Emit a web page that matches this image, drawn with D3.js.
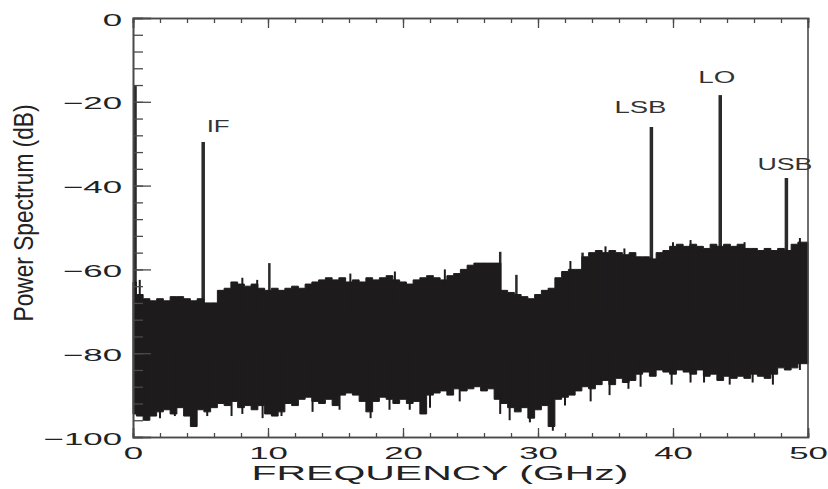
<!DOCTYPE html>
<html>
<head>
<meta charset="utf-8">
<script src="https://cdn.jsdelivr.net/npm/d3@7"></script>
<style>
  body { margin: 0; background: #fff; }
  svg { display: block; }
  text { font-family: "Liberation Sans", Arial, Helvetica, sans-serif; fill: #222; }
</style>
</head>
<body>
<script>
// noise floor envelope, sampled every 0.5 GHz (dB)
var noiseFreq = d3.range(0, 50.01, 0.5);
var noiseTop = [
  -63, -66, -67, -67.5, -67, -67.5, -66.5, -66.5, -67, -67.5,
  -67, -68, -68, -65, -64.5, -63, -63.5, -64, -63.5, -64.5,
  -65, -64.5, -65, -64.5, -64, -64.5, -63.5, -63, -62.5, -62,
  -62.5, -62, -63, -62.5, -63, -62, -62.5, -62, -61.5, -62.5,
  -63, -63.5, -62.5, -62, -61.5, -62, -62.5, -61.5, -61, -60,
  -59, -58.5, -58.5, -58.5, -58.5, -65, -65.5, -66, -66.5, -67,
  -66, -65, -64.5, -62, -60.5, -60, -60, -57, -56, -55.5,
  -56, -55.5, -56, -56.5, -56, -57, -57, -57.5, -56, -55.5,
  -54.5, -54, -54.5, -54, -54.5, -55, -54, -54.5, -54, -54.5,
  -54, -55, -55, -55.5, -55, -55.5, -55, -55.5, -54, -53.5, -53.5
];
var noiseBottom = [
  -94.5, -95, -96, -95, -94, -93.5, -94.5, -93, -95, -97.5,
  -93.5, -94, -93, -92, -92.5, -91.5, -93, -92.5, -93.5, -92.5,
  -94.5, -95, -94, -92, -92.5, -91, -90.5, -91.5, -92, -91,
  -92.5, -90, -89.5, -90, -91.5, -94, -91.5, -90.5, -91, -92,
  -91, -92, -91.5, -94.5, -90, -89.5, -89, -90, -88.5, -89,
  -88.5, -88, -89, -88.5, -91, -92, -93, -94, -93, -95.5,
  -93.5, -92.5, -97.5, -91, -90.5, -90, -89, -88, -88.5, -87.5,
  -86.5, -87.5, -86, -87, -86.5, -85, -84.5, -85.5, -84, -84.5,
  -85, -84, -84.5, -85, -84, -85.5, -85, -86.5, -85.5, -86,
  -85.5, -86, -85, -85.5, -86, -85, -83.5, -84, -83.5, -82.5, -82.5
];

// single-bin excursions poking out of the noise edges
var upperBinFreq = [0.5, 8.1, 9.2, 16.1, 19.4, 23.1, 32.4, 35.0, 36.4, 40.0, 41.3, 45.3, 49.4];
var upperBinDb   = [-62.5, -62, -62.5, -61, -60.5, -60, -58, -54.5, -55, -53.5, -53, -53.5, -52.5];
var lowerBinFreq = [1.0, 2.0, 3.1, 5.5, 7.3, 8.1, 9.6, 11.0, 13.3, 15.3, 17.6, 19.0, 20.5, 22.0,
                    24.2, 27.2, 27.9, 29.4, 31.1, 32.0, 33.9, 35.3, 36.7, 37.6, 39.9, 41.3, 42.3,
                    44.2, 45.9, 47.4, 49.4];
var lowerBinDb   = [-96, -95.5, -95, -95, -95, -94.5, -95.5, -95, -94, -93.5, -95.5, -93.5, -93.5, -93,
                    -91.5, -94.5, -96, -96.5, -98.5, -92.5, -91.5, -90, -88.5, -88, -87.5, -87, -87,
                    -87.5, -87, -87.5, -84];

// discrete tones (GHz, peak dB)
var spikeFreq = [0.15, 5.2, 10.1, 27.2, 28.4, 33.3, 38.4, 43.5, 48.4];
var spikePeak = [-16, -29.6, -58.5, -55.8, -61.3, -56, -26, -18.4, -38.2];

var toneLabels = ["IF", "LSB", "LO", "USB"];
var toneFreq = [5.2, 38.4, 43.5, 48.4];
var tonePeak = [-29.6, -26, -18.4, -38.2];

var xTicks = [0, 10, 20, 30, 40, 50];
var yTicks = [0, -20, -40, -60, -80, -100];

var width = 828, height = 489;
var margin = { top: 18, right: 20, bottom: 52, left: 133 };

var x = d3.scaleLinear().domain([0, 50]).range([margin.left, width - margin.right]);
var y = d3.scaleLinear().domain([-100, 0]).range([height - margin.bottom, margin.top]);

var svg = d3.select("body").append("svg")
    .attr("width", width)
    .attr("height", height);

var ink = "#1d1b1c";
var axisColor = "#4a4a4a";

// tones
svg.append("g")
    .selectAll("line")
    .data(spikeFreq)
    .enter().append("line")
    .attr("x1", function (d) { return x(d); })
    .attr("x2", function (d) { return x(d); })
    .attr("y1", function (d, i) { return y(spikePeak[i]); })
    .attr("y2", y(-75))
    .style("stroke", "#2b2a2b")
    .style("stroke-width", function (d, i) { return spikePeak[i] > -50 ? 3.5 : 2.5; });

// noise band
var area = d3.area()
    .x(function (d, i) { return x(noiseFreq[i]); })
    .y0(function (d, i) { return y(noiseBottom[i]); })
    .y1(function (d, i) { return y(noiseTop[i]); })
    .curve(d3.curveStep);

svg.append("path")
    .datum(noiseTop)
    .attr("d", area)
    .style("fill", ink)
    .style("stroke", ink)
    .style("stroke-width", 1);

svg.append("g")
    .selectAll("line")
    .data(upperBinFreq)
    .enter().append("line")
    .attr("x1", function (d) { return x(d); })
    .attr("x2", function (d) { return x(d); })
    .attr("y1", function (d, i) { return y(upperBinDb[i]); })
    .attr("y2", y(-70))
    .style("stroke", ink)
    .style("stroke-width", 2);

svg.append("g")
    .selectAll("line")
    .data(lowerBinFreq)
    .enter().append("line")
    .attr("x1", function (d) { return x(d); })
    .attr("x2", function (d) { return x(d); })
    .attr("y1", function (d, i) { return y(lowerBinDb[i]); })
    .attr("y2", y(-80))
    .style("stroke", ink)
    .style("stroke-width", 2);

// axes, ticks point inward
var x0 = x.range()[0], x1 = x.range()[1];
var y0 = y.range()[0], y1 = y.range()[1];

var xMinor = d3.range(0, 50.01, 2);
var yMinor = d3.range(-100, 0.01, 4);

var axes = svg.append("g").attr("class", "axes");

axes.append("g")
    .attr("transform", "translate(0," + y0 + ")")
    .call(d3.axisBottom(x).tickValues(xMinor).tickSize(-4).tickFormat(""));
axes.append("g")
    .attr("class", "xaxis")
    .attr("transform", "translate(0," + y0 + ")")
    .call(d3.axisBottom(x).tickValues(xTicks).tickSize(-9).tickPadding(10).tickFormat(d3.format("d")));

axes.append("g")
    .attr("transform", "translate(0," + y1 + ")")
    .call(d3.axisTop(x).tickValues(xMinor).tickSize(-5).tickFormat(""));
axes.append("g")
    .attr("transform", "translate(0," + y1 + ")")
    .call(d3.axisTop(x).tickValues(xTicks).tickSize(-10).tickFormat(""));

axes.append("g")
    .attr("transform", "translate(" + x0 + ",0)")
    .call(d3.axisLeft(y).tickValues(yMinor).tickSize(-10).tickFormat(""));
axes.append("g")
    .attr("class", "yaxis")
    .attr("transform", "translate(" + x0 + ",0)")
    .call(d3.axisLeft(y).tickValues(yTicks).tickSize(-18).tickPadding(0).tickFormat(function (d) {
        return d < 0 ? "\u2212" + Math.abs(d) : d;
    }));

axes.append("line")
    .attr("class", "rightEdge")
    .attr("x1", x1).attr("x2", x1).attr("y1", y1).attr("y2", y0);

axes.selectAll(".domain").style("stroke", axisColor).style("stroke-width", 1.6);
axes.selectAll(".tick line").style("stroke", axisColor).style("stroke-width", 1.3);
axes.select(".rightEdge").style("stroke", axisColor).style("stroke-width", 1.6);

// stretched tick labels
var sx = 2.05;
axes.selectAll(".xaxis .tick text")
    .style("font-size", "17px")
    .style("fill", "#222")
    .attr("transform", "scale(" + sx + ",1)");
axes.selectAll(".yaxis .tick text")
    .style("font-size", "17px")
    .style("fill", "#222")
    .attr("x", -11 / sx)
    .attr("dy", "0.42em")
    .attr("transform", "scale(" + sx + ",1)");

// axis titles
svg.append("text")
    .attr("x", 440)
    .attr("y", 480)
    .attr("text-anchor", "middle")
    .attr("textLength", 377)
    .attr("lengthAdjust", "spacingAndGlyphs")
    .style("font-size", "21px")
    .text("FREQUENCY (GHz)");

svg.append("text")
    .attr("transform", "translate(33,213) rotate(-90)")
    .attr("text-anchor", "middle")
    .attr("textLength", 217)
    .attr("lengthAdjust", "spacingAndGlyphs")
    .style("font-size", "27px")
    .text("Power Spectrum (dB)");

// tone labels: pixel offsets from each peak and label widths
var labelLayout = [
    { dx: 15, dy: -10, w: 23 },
    { dx: -11, dy: -14, w: 52 },
    { dx: -3.5, dy: -12, w: 37 },
    { dx: -1.5, dy: -8, w: 55 }
];
svg.append("g")
    .selectAll("text")
    .data(toneLabels)
    .enter().append("text")
    .attr("x", function (d, i) { return x(toneFreq[i]) + labelLayout[i].dx; })
    .attr("y", function (d, i) { return y(tonePeak[i]) + labelLayout[i].dy; })
    .attr("text-anchor", "middle")
    .attr("textLength", function (d, i) { return labelLayout[i].w; })
    .attr("lengthAdjust", "spacingAndGlyphs")
    .style("font-size", "16px")
    .style("fill", "#333")
    .text(function (d) { return d; });
</script>
</body>
</html>
